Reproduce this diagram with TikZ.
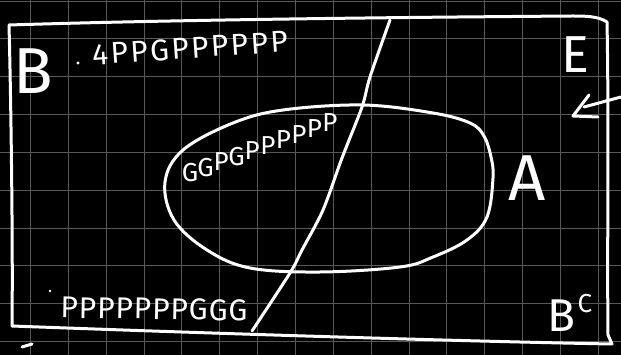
\documentclass[tikz,border=0pt]{standalone}
\usepackage{fontspec}
\setmainfont{Fira Sans}
\definecolor{gridc}{RGB}{88,88,88}
\begin{document}
\begin{tikzpicture}[x=1pt,y=-1pt,
  ink/.style={draw=white,line width=3pt,line cap=round,line join=round},
  lbl/.style={text=white,inner sep=0pt,anchor=center},
  gridline/.style={draw=gridc,line width=0.9pt}]
\fill[black] (0,0) rectangle (621,355);
\useasboundingbox (0,0) rectangle (621,355);
% grid
\foreach \i in {0,...,15} {\draw[gridline] ({30.5+37.85*\i},0) -- ({30.5+37.85*\i},355);}
\foreach \j in {0,...,9} {\draw[gridline] (0,{1+37.85*\j}) -- (621,{1+37.85*\j});}
% outer box E
\draw[ink] (9,25) .. controls (200,19) and (450,17) .. (572,16)
  .. controls (585,16) and (598,16) .. (607,22)
  .. controls (609,120) and (607,250) .. (608,335) -- (612,344)
  .. controls (450,341) and (200,333) .. (12,326)
  .. controls (13,250) and (11,100) .. (9,25);
\draw[ink] (22,347) -- (32,344);
% dividing line
\draw[ink] plot[smooth,tension=0.5] coordinates {(390,20) (370,77) (362,107) (342,158) (323,210) (302,250) (290,273) (252,331)};
% set A
\draw[ink] plot[smooth cycle,tension=0.6] coordinates {(165,182) (183,150) (233,123) (283,110) (363,105) (433,113) (470,123) (484,136) (491,157) (493,178) (487,217) (467,240) (433,257) (400,267) (320,272) (250,268) (207,250) (174,220)};
% arrow
\coordinate (arrstart) at (621,97);
\coordinate (arrend) at (584,107);
\draw[ink] (arrstart) -- (arrend);
\draw[ink] (589,95) -- (573,116) -- (598,117);
% labels
\node[lbl,font=\fontsize{65}{70}\selectfont] (B) at (33,71) {B};
\node[lbl,font=\fontsize{65}{70}\selectfont] (A) at (527,178) {A};
\node[lbl,font=\fontsize{52}{56}\selectfont] (E) at (575,55) {E};
\node[lbl,font=\fontsize{46}{50}\selectfont] (Bc) at (561,316) {B};
\node[lbl,font=\fontsize{26}{28}\selectfont] (C) at (585,304) {C};
\fill[white] (78,63) circle (1.7pt);
\fill[white] (50,291) circle (1.4pt);
\node[lbl,font=\fontsize{30}{34}\selectfont\addfontfeature{LetterSpace=8},rotate=4] (t1) at (190,48) {4PPGPPPPPP};
\foreach \ch [count=\k from 0] in {G,G,P,G,P,P,P,P,P,P}
  \node[lbl,anchor=base,font=\fontsize{26}{29}\selectfont] (t2-\k) at ({190+15.56*\k},{182-5.56*\k}) {\ch};
\node[lbl,font=\fontsize{30}{34}\selectfont\addfontfeature{LetterSpace=3},rotate=-1] (t3) at (154,309) {PPPPPPPGGG};
\end{tikzpicture}
\end{document}
